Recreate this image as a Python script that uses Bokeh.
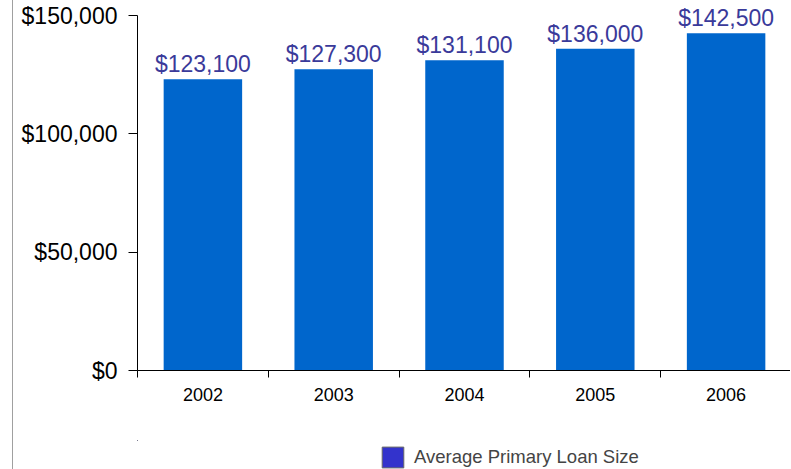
from bokeh.plotting import figure
from bokeh.layouts import column
from bokeh.models import (ColumnDataSource, FixedTicker, NumeralTickFormatter, Range1d,
                          Legend, LegendItem, LabelSet)
from bokeh.core.properties import value
from bokeh.embed import file_html
from bokeh.resources import INLINE

years = ["2002", "2003", "2004", "2005", "2006"]
loan_size = [123100, 127300, 131100, 136000, 142500]
y_ticks = [0, 50000, 100000, 150000]
series_name = "Average Primary Loan Size"

xs = [i + 1 for i in range(len(years))]
labels = ["${:,}".format(v) for v in loan_size]
src = ColumnDataSource(dict(x=xs, top=loan_size, label=labels))

# frame from y=6 to y=370; 150000 must sit at y=15
frame_top = 6
y_end = 150000 * (370 - frame_top) / 355.0

border_style = {"border-left": "1px solid #a0a0a0", "margin-left": "12px"}

p = figure(width=778, height=440, output_backend="svg", toolbar_location=None,
           x_range=Range1d(0.5, len(years) + 0.5), y_range=Range1d(0, y_end),
           min_border_left=124, min_border_top=frame_top, min_border_right=0, min_border_bottom=70)
p.styles = border_style
p.outline_line_color = None
p.xgrid.visible = False
p.ygrid.visible = False
p.background_fill_color = "white"

bars = p.vbar(x="x", top="top", width=0.6, source=src, fill_color="#0066CC", line_color=None)

lbl = LabelSet(x="x", y="top", text="label", source=src, text_align="center",
               text_baseline="alphabetic", y_offset=7, text_color="#3a3a9a",
               text_font=value("Liberation Sans"), text_font_size="23px")
p.add_layout(lbl)

# x axis
p.xaxis.ticker = FixedTicker(ticks=xs, minor_ticks=[i + 0.5 for i in range(len(years) + 1)])
p.xaxis.major_label_overrides = {x: y for x, y in zip(xs, years)}
p.xaxis.major_tick_out = 0
p.xaxis.major_tick_in = 0
p.xaxis.minor_tick_out = 7
p.xaxis.minor_tick_in = 0
p.xaxis.axis_line_color = "black"
p.xaxis.minor_tick_line_color = "black"
p.xaxis.major_label_standoff = 10
p.xaxis.major_label_text_font = "Liberation Sans"
p.xaxis.major_label_text_font_size = "18px"
p.xaxis.major_label_text_color = "black"

# y axis
p.yaxis.ticker = FixedTicker(ticks=y_ticks)
p.yaxis.bounds = (0, 150000)
p.yaxis.formatter = NumeralTickFormatter(format="$0,0")
p.yaxis.major_tick_out = 9
p.yaxis.major_tick_in = 0
p.yaxis.minor_tick_out = 0
p.yaxis.minor_tick_in = 0
p.yaxis.axis_line_color = "black"
p.yaxis.major_tick_line_color = "black"
p.yaxis.major_label_standoff = 11
p.yaxis.major_label_text_font = "Liberation Sans"
p.yaxis.major_label_text_font_size = "23px"
p.yaxis.major_label_text_color = "black"

# legend strip (its frame is aligned with the main frame by the column layout);
# its ranges keep the swatch renderer's own bars far out of view
lf = figure(width=778, height=29, output_backend="svg", toolbar_location=None,
            x_range=Range1d(1000, 1001), y_range=Range1d(-1e7, -1e7 + 1),
            min_border_left=124, min_border_right=0, min_border_top=0, min_border_bottom=0)
lf.styles = border_style
lf.axis.visible = False
lf.grid.visible = False
lf.outline_line_color = None
swatch = lf.vbar(x="x", top="top", width=0.6, source=src, fill_color="#3333CC", line_color="#666666")
legend = Legend(items=[LegendItem(label=series_name, renderers=[swatch])],
                location=(242, -1), padding=0, margin=0, spacing=0,
                glyph_width=27, glyph_height=26, label_height=26, label_standoff=8,
                border_line_alpha=0, background_fill_alpha=0,
                label_text_font="Liberation Sans", label_text_font_size="18.5px")
lf.add_layout(legend, "center")

layout = column(p, lf, spacing=0)
open("out.html", "w").write(file_html(layout, INLINE))
